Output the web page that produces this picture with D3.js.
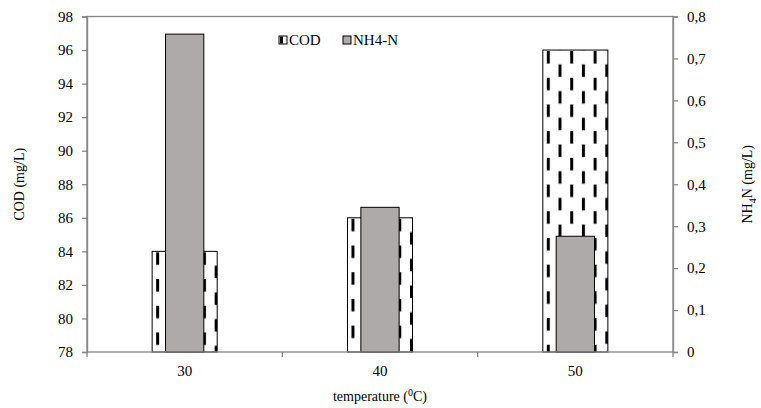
<!DOCTYPE html>
<html>
<head>
<meta charset="utf-8">
<script src="https://cdn.jsdelivr.net/npm/d3@7"></script>
<style>
  body { margin: 0; background: #fff; }
  svg text { font-family: 'Liberation Serif', 'Times New Roman', serif !important; fill: #000; }
</style>
</head>
<body>
<div id="chart"></div>
<script>
// values
const temperatures = ["30", "40", "50"];
const codValues = [84, 86, 96];
const nh4Values = [0.758, 0.345, 0.276];
const codTicks = [78, 80, 82, 84, 86, 88, 90, 92, 94, 96, 98];
const nh4Ticks = [0, 0.1, 0.2, 0.3, 0.4, 0.5, 0.6, 0.7, 0.8];

const W = 761, H = 408;
const margin = { top: 16.5, right: 88, bottom: 56, left: 87 };
const width = W - margin.left - margin.right,
      height = H - margin.top - margin.bottom;

const svg = d3.select("#chart").append("svg")
    .attr("width", W)
    .attr("height", H)
    .attr("font-family", "'Liberation Serif', serif");

const g = svg.append("g")
    .attr("transform", `translate(${margin.left},${margin.top})`);

const x = d3.scaleBand()
    .domain(temperatures)
    .range([0, width])
    .padding(0);

const yL = d3.scaleLinear().domain([78, 98]).range([height, 0]);
const yR = d3.scaleLinear().domain([0, 0.8]).range([height, 0]);

const codW = x.bandwidth() * 0.333;
const nhW = x.bandwidth() * 0.196;
const codX = i => x(temperatures[i]) + x.bandwidth() / 2 - codW / 2;

// dashed pattern for the COD bars, one per bar so the dashes line up with its left edge
const defs = svg.append("defs");
temperatures.forEach((t, i) => {
  const pat = defs.append("pattern")
      .attr("id", "dashes" + i)
      .attr("patternUnits", "userSpaceOnUse")
      .attr("x", codX(i) + 4)
      .attr("y", yL(codValues[i]) + 1)
      .attr("width", 23.4)
      .attr("height", 26.7);
  pat.append("rect").attr("width", 23.4).attr("height", 26.7).attr("fill", "#fff");
  pat.append("rect").attr("x", 0).attr("y", 0).attr("width", 3).attr("height", 12.5).attr("fill", "#000");
  pat.append("rect").attr("x", 11.7).attr("y", 13.35).attr("width", 3).attr("height", 12.5).attr("fill", "#000");
});

// COD bars
g.selectAll(".cod")
    .data(codValues)
    .enter().append("rect")
    .attr("class", "cod")
    .attr("x", (d, i) => codX(i))
    .attr("y", d => yL(d))
    .attr("width", codW)
    .attr("height", d => height - yL(d))
    .attr("fill", (d, i) => `url(#dashes${i})`)
    .attr("stroke", "#000")
    .attr("stroke-width", 1);

// NH4-N bars
g.selectAll(".nh4")
    .data(nh4Values)
    .enter().append("rect")
    .attr("class", "nh4")
    .attr("x", (d, i) => x(temperatures[i]) + x.bandwidth() / 2 - nhW / 2)
    .attr("y", d => yR(d))
    .attr("width", nhW)
    .attr("height", d => height - yR(d))
    .attr("fill", "#aeaaa9")
    .attr("stroke", "#000")
    .attr("stroke-width", 1);

const axisColor = "#868686";

// left axis
const left = g.append("g")
    .call(d3.axisLeft(yL).tickValues(codTicks).tickSize(5).tickPadding(9));
// right axis
const right = g.append("g")
    .attr("transform", `translate(${width},0)`)
    .call(d3.axisRight(yR).tickValues(nh4Ticks).tickSize(5).tickPadding(9)
        .tickFormat(d => d === 0 ? "0" : d3.format(".1f")(d).replace(".", ",")));
// bottom axis: ticks sit between categories
const bottom = g.append("g")
    .attr("transform", `translate(0,${height})`)
    .call(d3.axisBottom(x).tickSize(0).tickPadding(13));

[left, right, bottom].forEach(a => {
  a.attr("font-family", null).attr("font-size", null);
  a.selectAll("path, line").attr("stroke", axisColor).attr("stroke-width", 1.3);
  a.selectAll("text").style("font-size", "15px").attr("fill", "#000");
});
bottom.select(".domain").remove();

const bounds = [0].concat(temperatures.map(t => x(t) + x.bandwidth()));
g.append("g").selectAll("line")
    .data(bounds)
    .enter().append("line")
    .attr("x1", d => d).attr("x2", d => d)
    .attr("y1", height).attr("y2", height + 5)
    .attr("stroke", axisColor).attr("stroke-width", 1.3);

// plot frame
g.append("rect")
    .attr("width", width).attr("height", height)
    .attr("fill", "none")
    .attr("stroke", axisColor)
    .attr("stroke-width", 1.3);

// axis titles
svg.append("text")
    .attr("transform", `translate(24,${margin.top + height / 2}) rotate(-90)`)
    .attr("text-anchor", "middle")
    .style("font-size", "14px")
    .text("COD (mg/L)");

const rt = svg.append("text")
    .attr("transform", `translate(752,${margin.top + height / 2}) rotate(-90)`)
    .attr("text-anchor", "middle")
    .style("font-size", "14px");
rt.append("tspan").text("NH");
rt.append("tspan").attr("dy", 4).style("font-size", "10px").text("4");
rt.append("tspan").attr("dy", -4).text("N (mg/L)");

const bt = svg.append("text")
    .attr("x", margin.left + width / 2)
    .attr("y", 401)
    .attr("text-anchor", "middle")
    .style("font-size", "14px");
bt.append("tspan").text("temperature (");
bt.append("tspan").attr("dy", -5).style("font-size", "10px").text("0");
bt.append("tspan").attr("dy", 5).text("C)");

// legend
const legend = svg.append("g").attr("transform", "translate(279,36)");
legend.append("rect").attr("x", 0).attr("y", 0).attr("width", 8).attr("height", 8)
    .attr("fill", "#fff").attr("stroke", "#000").attr("stroke-width", 1);
legend.append("rect").attr("x", 1).attr("y", 0.5).attr("width", 3).attr("height", 7).attr("fill", "#000");
legend.append("text").attr("x", 10).attr("y", 9).style("font-size", "15px").text("COD");
legend.append("rect").attr("x", 64).attr("y", 0).attr("width", 8).attr("height", 8)
    .attr("fill", "#aeaaa9").attr("stroke", "#000").attr("stroke-width", 1);
legend.append("text").attr("x", 74).attr("y", 9).style("font-size", "15px").text("NH4-N");
</script>
</body>
</html>
